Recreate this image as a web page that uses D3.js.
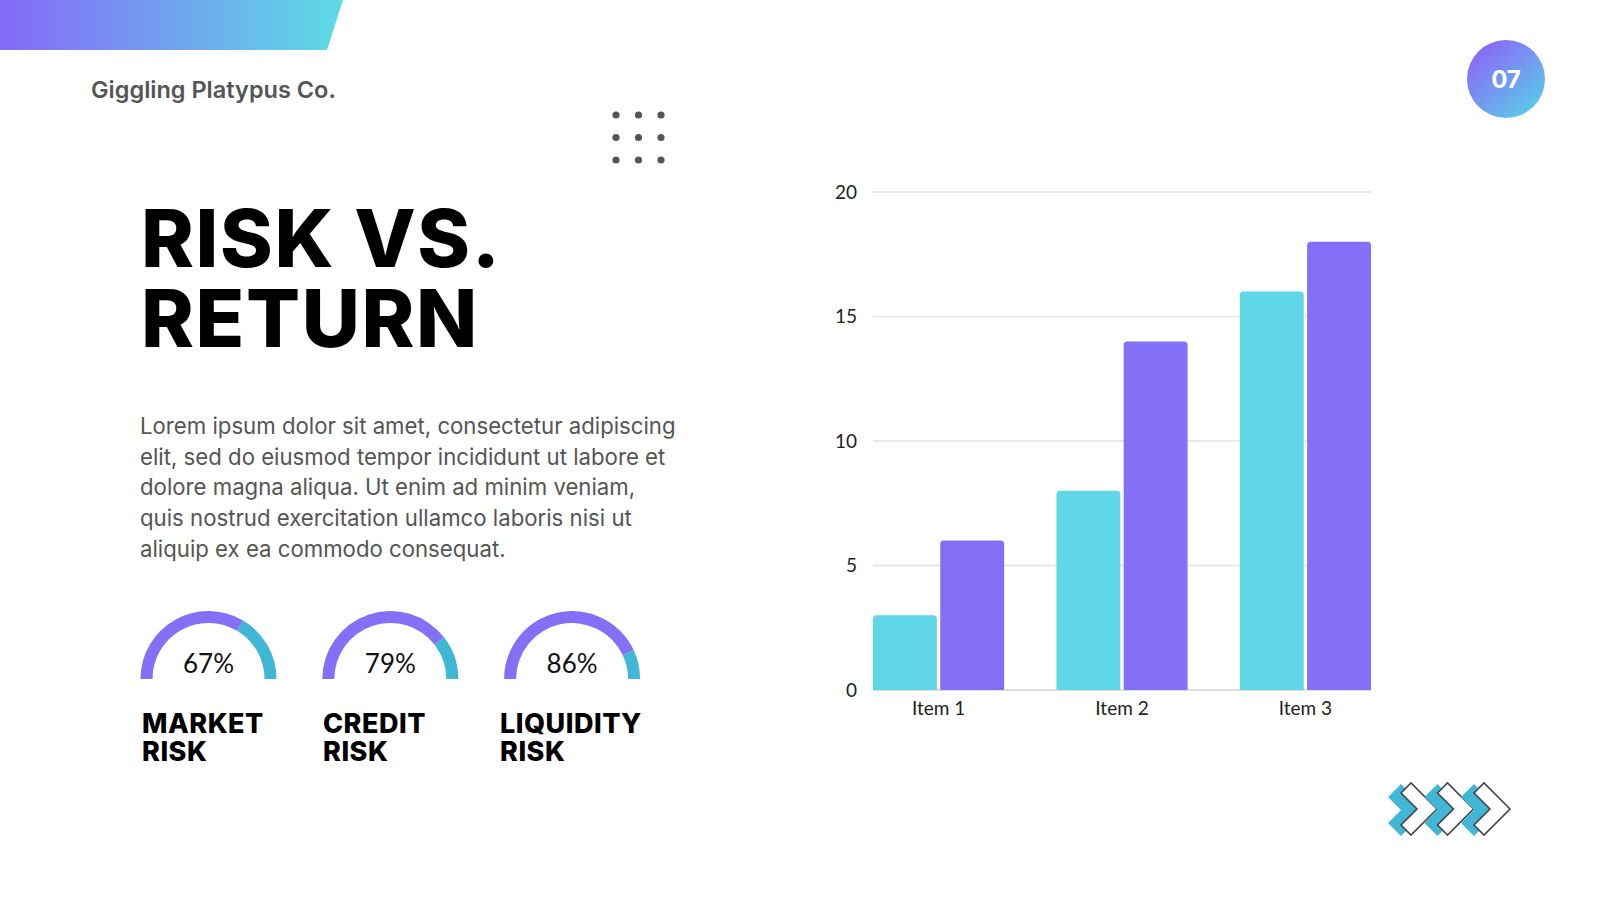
<!DOCTYPE html>
<html>
<head>
<meta charset="utf-8">
<script src="https://cdn.jsdelivr.net/npm/d3@7"></script>
<style>
  body { margin: 0; background: #fff; }
  svg { display: block; }
</style>
</head>
<body>
<div id="chart"></div>
<script>
// Risk vs. return slide (D3 v7)

const items = ['Item 1', 'Item 2', 'Item 3'];
const seriesA = [3, 8, 16];
const seriesB = [6, 14, 18];
const yTicks = [0, 5, 10, 15, 20];

const gaugeNames = [['MARKET', 'RISK'], ['CREDIT', 'RISK'], ['LIQUIDITY', 'RISK']];
const gaugeValues = [67, 79, 86];

const bodyLines = [
	'Lorem ipsum dolor sit amet, consectetur adipiscing',
	'elit, sed do eiusmod tempor incididunt ut labore et',
	'dolore magna aliqua. Ut enim ad minim veniam,',
	'quis nostrud exercitation ullamco laboris nisi ut',
	'aliquip ex ea commodo consequat.'
];

const purple = '#8470f7';
const teal = '#60d7e7';
const tealDark = '#40b7d5';

const svg = d3.select('#chart').append('svg')
	.attr('width', 1600)
	.attr('height', 900);

const defs = svg.append('defs');

const hg = defs.append('linearGradient').attr('id', 'headGrad')
	.attr('x1', '0%').attr('x2', '100%').attr('y1', '0%').attr('y2', '0%');
hg.append('stop').attr('offset', '0%').attr('stop-color', '#8569f8');
hg.append('stop').attr('offset', '100%').attr('stop-color', '#5ddce6');

const bg = defs.append('linearGradient').attr('id', 'badgeGrad')
	.attr('x1', '15%').attr('x2', '85%').attr('y1', '10%').attr('y2', '90%');
bg.append('stop').attr('offset', '0%').attr('stop-color', '#8a68f7');
bg.append('stop').attr('offset', '100%').attr('stop-color', '#5cc8e8');

// header band
svg.append('path')
	.attr('d', 'M0,0 L343,0 L327,50 L0,50 Z')
	.attr('fill', 'url(#headGrad)');

svg.append('text')
	.attr('x', 91).attr('y', 98)
	.style('font-family', 'Inter, sans-serif')
	.style('font-weight', 600)
	.style('font-size', '23.5px')
	.attr('fill', '#555')
	.text('Giggling Platypus Co.');

// page badge
svg.append('circle').attr('cx', 1506).attr('cy', 79).attr('r', 39).attr('fill', 'url(#badgeGrad)');
svg.append('text')
	.attr('x', 1506).attr('y', 88)
	.attr('text-anchor', 'middle')
	.style('font-family', 'Inter, sans-serif')
	.style('font-weight', 700)
	.style('font-size', '24px')
	.attr('fill', '#fff')
	.text('07');

// dot grid
const dots = svg.append('g').attr('fill', '#555');
[0, 1, 2].forEach(r => [0, 1, 2].forEach(c => {
	dots.append('circle').attr('cx', 616 + c * 22.5).attr('cy', 115 + r * 22.5).attr('r', 3.6);
}));

// title
const title = svg.append('text')
	.style('font-family', 'Inter, sans-serif')
	.style('font-weight', 800)
	.style('font-size', '80px')
	.style('letter-spacing', '1.6px')
	.attr('fill', '#000');
title.append('tspan').attr('x', 141).attr('y', 267).text('RISK VS.');
title.append('tspan').attr('x', 141).attr('y', 347).text('RETURN');

// body copy
svg.append('g').selectAll('text')
	.data(bodyLines)
	.enter()
	.append('text')
	.attr('x', 140)
	.attr('y', (d, i) => 434 + i * 30.7)
	.style('font-family', 'Inter, sans-serif')
	.style('font-size', '22.2px')
	.attr('fill', '#555')
	.text(d => d);

// gauges
const arcGen = d3.arc().innerRadius(56).outerRadius(68);
const gauge = svg.append('g').selectAll('g')
	.data(gaugeValues)
	.enter()
	.append('g')
	.attr('transform', (d, i) => `translate(${208.5 + i * 181.8},679)`);

const ang = d3.scaleLinear().domain([0, 100]).range([-Math.PI / 2, Math.PI / 2]);

gauge.append('path')
	.attr('d', d => arcGen({startAngle: ang(0), endAngle: ang(d)}))
	.attr('fill', purple);
gauge.append('path')
	.attr('d', d => arcGen({startAngle: ang(d), endAngle: ang(100)}))
	.attr('fill', tealDark);
gauge.append('text')
	.attr('y', -6)
	.attr('text-anchor', 'middle')
	.style('font-family', 'Lato, sans-serif')
	.style('font-weight', 400)
	.style('font-size', '26px')
	.attr('fill', '#111')
	.text(d => d + '%');

const labelX = [142, 323, 500];
gaugeNames.forEach((lines, i) => {
	const t = svg.append('text')
		.style('font-family', 'Inter, sans-serif')
		.style('font-weight', 800)
		.style('font-size', '27px')
		.style('letter-spacing', '0.5px')
		.attr('fill', '#000');
	lines.forEach((l, j) => t.append('tspan').attr('x', labelX[i]).attr('y', 733 + j * 27.5).text(l));
});

// bar chart
const plot = {left: 873, right: 1371, top: 192, bottom: 690};

const x = d3.scaleBand()
	.domain(items)
	.range([plot.left, plot.right])
	.paddingInner(0.285)
	.paddingOuter(0);

const keys = ['a', 'b'];
const xSub = d3.scaleBand()
	.domain(keys)
	.range([0, x.bandwidth()])
	.paddingInner(0.05);

const y = d3.scaleLinear()
	.domain([0, 20])
	.range([plot.bottom, plot.top]);

const chart = svg.append('g');

chart.append('g')
	.selectAll('line')
	.data(yTicks)
	.enter()
	.append('line')
	.attr('x1', plot.left)
	.attr('x2', plot.right)
	.attr('y1', d => y(d))
	.attr('y2', d => y(d))
	.attr('stroke', d => d === 0 ? '#d4d4d4' : '#e2e2e2')
	.attr('stroke-width', 1.5);

const yAxis = chart.append('g')
	.attr('transform', `translate(${plot.left - 16},0)`)
	.call(d3.axisLeft(y).tickValues(yTicks).tickSize(0).tickPadding(0));
yAxis.select('.domain').remove();
yAxis.selectAll('text')
	.style('font-family', 'Lato, sans-serif')
	.style('font-size', '19px')
	.attr('fill', '#222');

const xAxis = chart.append('g')
	.attr('transform', `translate(0,${plot.bottom})`)
	.call(d3.axisBottom(x).tickSize(0).tickPadding(12));
xAxis.select('.domain').remove();
xAxis.selectAll('text')
	.style('font-family', 'Lato, sans-serif')
	.style('font-size', '19px')
	.attr('fill', '#222');

function topRounded(x0, y0, w, h, r) {
	r = Math.min(r, h, w / 2);
	return `M${x0},${y0 + h} V${y0 + r} Q${x0},${y0} ${x0 + r},${y0} H${x0 + w - r} Q${x0 + w},${y0} ${x0 + w},${y0 + r} V${y0 + h} Z`;
}

const rows = items.map((it, i) => ({item: it, a: seriesA[i], b: seriesB[i]}));
const colors = {a: teal, b: purple};

chart.append('g')
	.selectAll('g')
	.data(rows)
	.enter()
	.append('g')
	.attr('transform', d => `translate(${x(d.item)},0)`)
	.selectAll('path')
	.data(d => keys.map(k => ({key: k, value: d[k]})))
	.enter()
	.append('path')
	.attr('fill', d => colors[d.key])
	.attr('d', d => topRounded(xSub(d.key), y(d.value), xSub.bandwidth(), y(0) - y(d.value), 3.5));

// chevrons
function chevron(h, d) {
	return `M0,${-h + d} L${d},${-h} L${d + h},0 L${d},${h} L0,${h - d} L${h - d},0 Z`;
}
const chev = svg.append('g').attr('transform', 'translate(0,810)');
[0, 1, 2].forEach(i => {
	chev.append('path')
		.attr('d', chevron(26, 13))
		.attr('transform', `translate(${1388 + i * 36.5},0)`)
		.attr('fill', tealDark);
	chev.append('path')
		.attr('d', chevron(26, 10))
		.attr('transform', `translate(${1401 + i * 36.5},-1)`)
		.attr('fill', '#fff')
		.attr('stroke', '#444')
		.attr('stroke-width', 1.6);
});
</script>
</body>
</html>
